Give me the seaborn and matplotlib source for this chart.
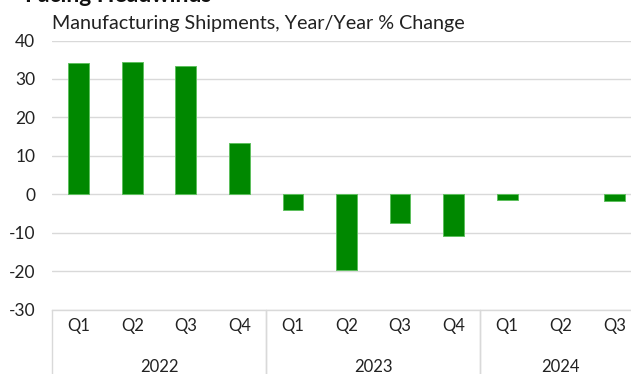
import matplotlib
matplotlib.use("Agg")
import matplotlib.pyplot as plt
import seaborn as sns
import pandas as pd

# Quarterly year-over-year change in manufacturing shipments (%)
years = ["2022", "2022", "2022", "2022",
         "2023", "2023", "2023", "2023",
         "2024", "2024", "2024"]
quarters = ["Q1", "Q2", "Q3", "Q4", "Q1", "Q2", "Q3", "Q4", "Q1", "Q2", "Q3"]
yoy_change = [34.1, 34.5, 33.4, 13.4, -4.1, -19.6, -7.6, -10.9, -1.6, 0.0, -1.7]
y_ticks = [-30, -20, -10, 0, 10, 20, 30, 40]

sns.set_theme(style="white")
plt.rcParams["font.family"] = ["Lato", "DejaVu Sans"]

df = pd.DataFrame({
    "period": [f"{y} {q}" for y, q in zip(years, quarters)],
    "quarter": quarters,
    "year": years,
    "value": yoy_change,
})

W, H = 631, 374
fig = plt.figure(figsize=(W / 100, H / 100), dpi=100)
ax = fig.add_axes([52 / W, 1 - 309.5 / H, 589 / W, 269 / H])

sns.barplot(data=df, x="period", y="value", color="#008800", saturation=1,
            width=0.39, edgecolor="#5fbf5f", linewidth=0.7, ax=ax)
# a zero-height bar should leave no outline behind
for p in ax.patches:
    if abs(p.get_height()) < 1e-9:
        p.set_linewidth(0)

ax.set_xlim(-0.5, len(quarters) - 0.5)
ax.set_ylim(-30, 40)
ax.set_yticks(y_ticks)
ax.set_yticklabels([str(t) for t in y_ticks], fontsize=12.5, color="#222222")
ax.tick_params(axis="y", length=0, pad=12)
ax.set_xticks([])
ax.set_xlabel("")
ax.set_ylabel("")
ax.yaxis.grid(True, color="#d9d9d9", linewidth=1)
ax.set_axisbelow(True)
for side in ["top", "right", "left"]:
    ax.spines[side].set_visible(False)
ax.spines["bottom"].set_color("#d9d9d9")
ax.spines["bottom"].set_linewidth(1)

# two-level category axis: quarters above, years below, with group dividers
xt = ax.get_xaxis_transform()
for i, q in enumerate(quarters):
    ax.text(i, -0.062, q, transform=xt, ha="center", va="center",
            fontsize=12, color="#222222", clip_on=False)

groups = {}
for i, y in enumerate(years):
    groups.setdefault(y, []).append(i)
for y, idx in groups.items():
    lo, hi = idx[0] - 0.5, idx[-1] + 0.5
    ax.text((lo + hi) / 2, -0.215, y, transform=xt, ha="center", va="center",
            fontsize=12, color="#222222", clip_on=False)
    for xv in (lo, hi):
        ax.plot([xv, xv], [0, -0.3], transform=xt, color="#d9d9d9",
                linewidth=1, clip_on=False)

fig.text(25 / W, 1 - 2.5 / H, "Facing Headwinds", ha="left", va="baseline",
         fontsize=16.5, fontweight="bold", color="#111111")
fig.text(52 / W, 1 - 23 / H, "Manufacturing Shipments, Year/Year % Change",
         ha="left", va="center", fontsize=14.2, color="#222222")

fig.savefig("out.png", dpi=100)
